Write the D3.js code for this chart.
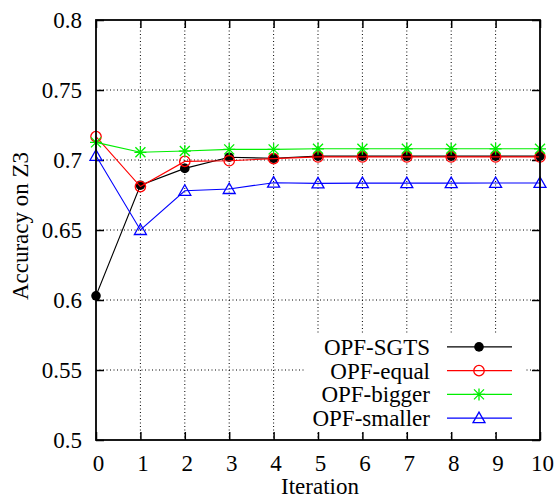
<!DOCTYPE html>
<html>
<head>
<meta charset="utf-8">
<script src="https://cdn.jsdelivr.net/npm/d3@7"></script>
<style>
  body { margin: 0; background: #fff; }
</style>
</head>
<body>
<div id="chart"></div>
<script>
// data
const iterations = [0, 1, 2, 3, 4, 5, 6, 7, 8, 9, 10];
const sgts    = [0.603, 0.682, 0.694, 0.702, 0.7012, 0.7028, 0.7028, 0.7028, 0.7028, 0.7028, 0.7028];
const equal   = [0.7167, 0.681, 0.699, 0.6995, 0.701, 0.7022, 0.7022, 0.7022, 0.7022, 0.7022, 0.7022];
const bigger  = [0.7126, 0.7055, 0.7064, 0.7076, 0.7076, 0.708, 0.708, 0.708, 0.708, 0.708, 0.708];
const smaller = [0.703, 0.650, 0.678, 0.6793, 0.6838, 0.6833, 0.6835, 0.6835, 0.6835, 0.6836, 0.6836];
const seriesNames = ["OPF-SGTS", "OPF-equal", "OPF-bigger", "OPF-smaller"];
const yTicks = [0.5, 0.55, 0.6, 0.65, 0.7, 0.75, 0.8];
const yTickLabels = ["0.5", "0.55", "0.6", "0.65", "0.7", "0.75", "0.8"];

const series = [
  { name: seriesNames[0], values: sgts,    color: "#000000", marker: "dot" },
  { name: seriesNames[1], values: equal,   color: "#ff0000", marker: "circle" },
  { name: seriesNames[2], values: bigger,  color: "#00ee00", marker: "star" },
  { name: seriesNames[3], values: smaller, color: "#0000ff", marker: "triangle" }
];

const width = 556, height = 498;
const plotLeft = 96, plotRight = 540, plotTop = 20, plotBottom = 440;
const serif = "'Liberation Serif', 'Times New Roman', serif";
const fontSize = 23;

const svg = d3.select("#chart")
  .append("svg")
    .attr("width", width)
    .attr("height", height)
    .attr("font-family", serif);

const x = d3.scaleLinear().domain([0, 10]).range([plotLeft, plotRight]);
const y = d3.scaleLinear().domain([0.5, 0.8]).range([plotBottom, plotTop]);

// dotted grid
const grid = svg.append("g")
  .attr("stroke", "#000")
  .attr("stroke-width", 1)
  .attr("stroke-dasharray", "1,2.5");
grid.selectAll("line.gx")
  .data(iterations.slice(1, -1))
  .join("line")
  .attr("x1", d => x(d)).attr("x2", d => x(d))
  .attr("y1", plotTop).attr("y2", plotBottom);
grid.selectAll("line.gy")
  .data(yTicks.slice(1, -1))
  .join("line")
  .attr("y1", d => y(d)).attr("y2", d => y(d))
  .attr("x1", plotLeft).attr("x2", plotRight);

// axes with inward ticks
const xAxis = svg.append("g")
  .attr("transform", `translate(0,${plotBottom})`)
  .call(d3.axisBottom(x).tickValues(iterations).tickFormat(d3.format("d"))
    .tickSize(-8).tickPadding(15));
const yAxis = svg.append("g")
  .attr("transform", `translate(${plotLeft},0)`)
  .call(d3.axisLeft(y).tickValues(yTicks).tickFormat((d, i) => yTickLabels[i])
    .tickSize(-8).tickPadding(14));
[xAxis, yAxis].forEach(a => {
  a.attr("font-family", serif).attr("font-size", fontSize);
  a.select(".domain").remove();
  a.selectAll("line").attr("stroke", "#000").attr("stroke-width", 1.5);
  a.selectAll("text").attr("fill", "#000");
});
xAxis.selectAll("text").attr("dx", 2);

// mirror ticks on top and right
svg.append("g")
  .attr("transform", `translate(0,${plotTop})`)
  .call(d3.axisTop(x).tickValues(iterations).tickFormat("").tickSize(-8))
  .call(g => g.select(".domain").remove())
  .selectAll("line").attr("stroke", "#000").attr("stroke-width", 1.5);
svg.append("g")
  .attr("transform", `translate(${plotRight},0)`)
  .call(d3.axisRight(y).tickValues(yTicks).tickFormat("").tickSize(-8))
  .call(g => g.select(".domain").remove())
  .selectAll("line").attr("stroke", "#000").attr("stroke-width", 1.5);

// marker drawing
const drawMarker = (g, type, color) => {
  if (type === "dot") {
    g.append("circle").attr("r", 4.8).attr("fill", color);
  } else if (type === "circle") {
    g.append("circle").attr("r", 5.2).attr("fill", "none")
      .attr("stroke", color).attr("stroke-width", 1.3);
  } else if (type === "star") {
    g.append("path")
      .attr("d", "M-6,0H6M0,-6V6M-5,-5L5,5M-5,5L5,-5")
      .attr("stroke", color).attr("stroke-width", 1.3);
  } else {
    g.append("path")
      .attr("d", "M0,-6L6,4.5H-6Z")
      .attr("fill", "none").attr("stroke", color).attr("stroke-width", 1.3);
  }
};

const line = d3.line().x((d, i) => x(iterations[i])).y(d => y(d));

series.forEach(s => {
  const g = svg.append("g");
  g.append("path")
    .attr("d", line(s.values))
    .attr("fill", "none")
    .attr("stroke", s.color)
    .attr("stroke-width", 1.1);
  g.selectAll("g.pt")
    .data(s.values)
    .join("g")
    .attr("class", "pt")
    .attr("transform", (d, i) => `translate(${x(iterations[i])},${y(d)})`)
    .each(function () { drawMarker(d3.select(this), s.marker, s.color); });
});

// frame
svg.append("rect")
  .attr("x", plotLeft).attr("y", plotTop)
  .attr("width", plotRight - plotLeft).attr("height", plotBottom - plotTop)
  .attr("fill", "none")
  .attr("stroke", "#000")
  .attr("stroke-width", 1.8);

// legend
const legend = svg.append("g");
legend.append("rect")
  .attr("x", 306).attr("y", 334)
  .attr("width", 220).attr("height", 97)
  .attr("fill", "#fff");
const rowY = d3.scaleBand().domain(seriesNames).range([335, 430]);
series.forEach(s => {
  const cy = rowY(s.name) + rowY.bandwidth() / 2;
  legend.append("text")
    .text(s.name)
    .attr("x", 430)
    .attr("y", cy + 8)
    .attr("text-anchor", "end")
    .attr("font-family", serif)
    .attr("font-size", fontSize);
  legend.append("line")
    .attr("x1", 447).attr("x2", 512)
    .attr("y1", cy).attr("y2", cy)
    .attr("stroke", s.color).attr("stroke-width", 1.1);
  drawMarker(legend.append("g").attr("transform", `translate(479,${cy})`), s.marker, s.color);
});

// axis titles
svg.append("text")
  .text("Iteration")
  .attr("x", (plotLeft + plotRight) / 2 + 2)
  .attr("y", 494)
  .attr("text-anchor", "middle")
  .attr("font-family", serif)
  .attr("font-size", fontSize);
svg.append("text")
  .text("Accuracy on Z3")
  .attr("transform", `translate(28,${(plotTop + plotBottom) / 2 - 4}) rotate(-90)`)
  .attr("text-anchor", "middle")
  .attr("font-family", serif)
  .attr("font-size", fontSize);
</script>
</body>
</html>
